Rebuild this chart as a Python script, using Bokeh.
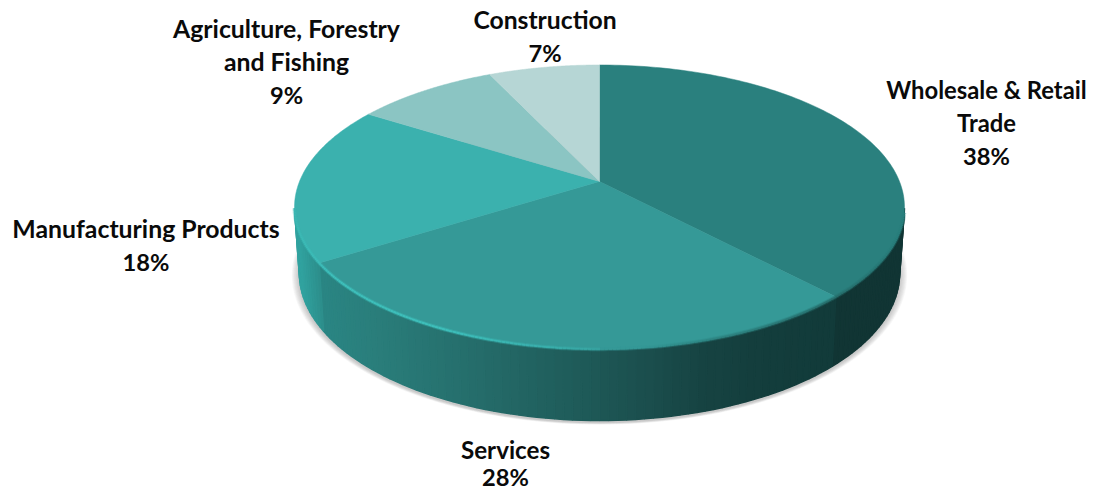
import numpy as np
from bokeh.plotting import figure
from bokeh.models import ColumnDataSource, Range1d
from bokeh.core.properties import value
from bokeh.embed import file_html
from bokeh.resources import INLINE

categories = ["Wholesale & Retail Trade", "Services", "Manufacturing Products",
              "Agriculture, Forestry and Fishing", "Construction"]
shares = [38, 28, 18, 9, 7]
top_colors = ["#2A807E", "#359997", "#3BB1AE", "#8BC5C3", "#B6D6D5"]

label_lines = [["Wholesale & Retail", "Trade", "38%"], ["Services", "28%"],
               ["Manufacturing Products", "18%"],
               ["Agriculture, Forestry", "and Fishing", "9%"], ["Construction", "7%"]]
label_x = [986, 505, 145.5, 286, 544.5]
label_y = [89, 449, 228, 28, 19]
label_size = [23.8, 24.2, 24.8, 24.8, 24.7]
label_gap = [33, 27, 33, 33, 33]
percent_size = 23.7

# projection of the disc
CX, CY, A, B, K = 599.0, 181.0, 300.0, 137.5, 0.18
ELL_Y, ELL_RY, BOT_Y, BOT_RY, BOT_SX = 206.7, 142.0, 273.0, 147.0, 0.984


def rim(frac):
    t = 2 * np.pi * np.asarray(frac)
    X, Y = np.sin(t), np.cos(t)
    w = 1 + K * Y
    return CX + A * X / w, CY - B * Y / w


def lower(x, y):
    return CX + (x - CX) * BOT_SX, BOT_Y + (y - ELL_Y) * BOT_RY / ELL_RY


def hex2rgb(h):
    return np.array([int(h[i:i + 2], 16) for i in (1, 3, 5)], float)


def ramp(x, stops):
    xs = [s[0] for s in stops]
    cols = np.array([hex2rgb(s[1]) for s in stops])
    out = [np.interp(x, xs, cols[:, i]) for i in range(3)]
    return ["#%02x%02x%02x" % (int(r), int(g), int(b)) for r, g, b in zip(*out)]


edges = np.cumsum([0] + shares) / sum(shares)

p = figure(width=1097, height=492, output_backend="svg", toolbar_location=None,
           x_range=Range1d(0, 1097), y_range=Range1d(492, 0), min_border=0,
           background_fill_color="white", border_fill_color="white")
p.axis.visible = False
p.grid.visible = False
p.outline_line_color = None

# soft shadow
ft = np.linspace(0, 1, 241)
sx, sy = rim(ft)
bx, by = lower(sx, sy)
for k in range(9, 0, -1):
    f = 1 + k * 0.0016
    sh_x = CX + (bx - CX) * (1 + k * 0.0028)
    sh_y = BOT_Y + 2 + (by - BOT_Y) * f
    p.patch(sh_x, sh_y, fill_color="#707070", fill_alpha=0.05, line_color=None)

# side wall, split in thin strips
side_stops = [(318, "#2b8684"), (380, "#2a7d7a"), (480, "#256c6a"), (580, "#1f5b59"),
              (650, "#1b4e4d"), (700, "#174443"), (760, "#143e3d"), (835, "#123b3a")]
left_stops = [(298, "#31a29f"), (318, "#2d8f8c")]
fr = np.linspace(0.28, 0.72, 111)
xs_s, ys_s, cols_s = [], [], []
for a, b in zip(fr[:-1], fr[1:]):
    m = (a + b) / 2
    tx, ty = rim(np.array([a, b]))
    lx, ly = lower(tx, ty)
    xs_s.append(list(tx) + list(lx[::-1]))
    ys_s.append(list(ty) + list(ly[::-1]))
    mx = float(rim(m)[0])
    if m < edges[1]:
        c = "#113534"
    elif m < edges[2]:
        c = ramp([mx], side_stops)[0]
    else:
        c = ramp([mx], left_stops)[0]
    cols_s.append(c)
p.patches(xs_s, ys_s, fill_color=cols_s, line_color=cols_s, line_width=1.5)

# top face
xs_t, ys_t = [], []
for a, b in zip(edges[:-1], edges[1:]):
    f = np.linspace(a, b, 120)
    x, y = rim(f)
    xs_t.append([CX] + list(x))
    ys_t.append([CY] + list(y))
p.patches(xs=xs_t, ys=ys_t, fill_color=top_colors, line_color=top_colors, line_width=0.5)

# bevelled rim: a wide faint band under a narrow line
fb = np.linspace(0.285, 0.72, 240)
rx_, ry_ = rim(fb)
right_rim = [(640, "#359997"), (700, "#2f8886"), (835, "#276f6d"), (905, "#2a807e")]
left_rim = [(293, "#3db8b4"), (330, "#3fc2be"), (450, "#3fc2be"), (560, "#3aafac"), (640, "#359997")]
seg_x = [[rx_[i], rx_[i + 1]] for i in range(len(fb) - 1)]
seg_y = [[ry_[i], ry_[i + 1]] for i in range(len(fb) - 1)]
seg_c = []
for i in range(len(fb) - 1):
    m = (fb[i] + fb[i + 1]) / 2
    mx = (rx_[i] + rx_[i + 1]) / 2
    seg_c.append(ramp([mx], left_rim)[0] if m > 0.5 else ramp([mx], right_rim)[0])
p.multi_line(seg_x, seg_y, line_color=seg_c, line_width=4, line_alpha=0.35)
p.multi_line(seg_x, seg_y, line_color=seg_c, line_width=2, line_alpha=0.9)

# labels
for lines, lx, ly, sz, gap in zip(label_lines, label_x, label_y, label_size, label_gap):
    for i, line in enumerate(lines):
        size = percent_size if i == len(lines) - 1 else sz
        src = ColumnDataSource(dict(x=[lx], y=[ly + i * gap], t=[line]))
        p.text("x", "y", text="t", source=src, text_align="center", text_baseline="middle",
               text_font=value("Lato"), text_font_style="bold", text_font_size=f"{size}px",
               text_color="#0a0a0a")

open("out.html", "w").write(file_html(p, INLINE))
